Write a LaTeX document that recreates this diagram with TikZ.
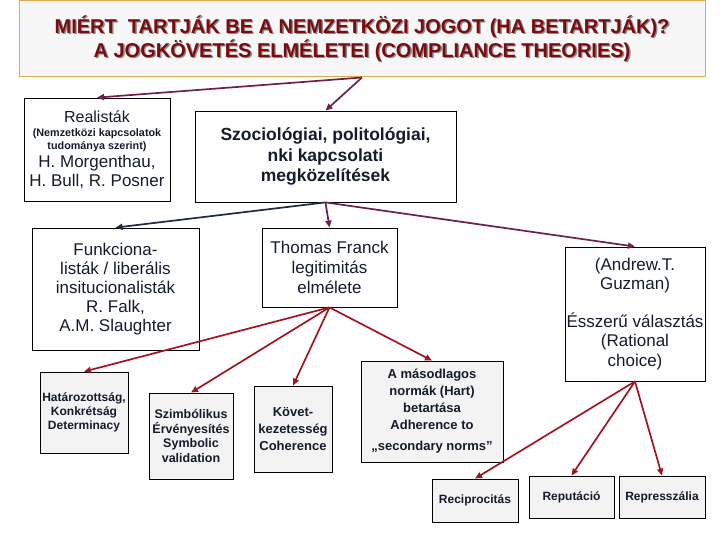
\documentclass[tikz,border=0pt]{standalone}
\usepackage{fontspec}
\setmainfont{Liberation Sans}
\usetikzlibrary{arrows.meta}
\definecolor{ink}{HTML}{141C2C}
\definecolor{titlered}{HTML}{7A0C10}
\definecolor{titleborder}{HTML}{E0A850}
\definecolor{titlefill}{HTML}{F7F7F7}
\definecolor{plum}{HTML}{6E1F4A}
\definecolor{navy}{HTML}{1E2A40}
\definecolor{arrred}{HTML}{A31422}
\definecolor{boxgray}{HTML}{F3F3F3}
\tikzset{
  box/.style={draw=black, line width=0.8pt, fill=white, align=center, inner sep=0pt, text=ink},
  gbox/.style={box, fill=boxgray},
  arr/.style={-{Triangle[length=7pt,width=6pt]}, line width=1.7pt},
  titletext/.style={align=center, inner sep=0pt, font=\bfseries\fontsize{20}{24}\selectfont}
}
\begin{document}
\begin{tikzpicture}[x=1pt,y=-1pt]
\useasboundingbox (0,0) rectangle (720,540);
% title
\node[draw=titleborder, line width=1pt, fill=titlefill, minimum width=686pt, minimum height=76pt, inner sep=0pt] (title) at (362,39) {};
\node[titletext, text=black!45] (tshadow) at (363.4,39.9) {MIÉRT\ \ TARTJÁK BE A NEMZETKÖZI JOGOT (HA BETARTJÁK)?\\A JOGKÖVETÉS ELMÉLETEI (COMPLIANCE THEORIES)};
\node[titletext, text=titlered] (ttext) at (362,38.5) {MIÉRT\ \ TARTJÁK BE A NEMZETKÖZI JOGOT (HA BETARTJÁK)?\\A JOGKÖVETÉS ELMÉLETEI (COMPLIANCE THEORIES)};
% level 1
\node[box, minimum width=146pt, minimum height=103pt] (real) at (97,149.5)
  {{\fontsize{16}{18}\selectfont Realisták}\\[1.5pt]
   {\bfseries\fontsize{10.8}{12}\selectfont (Nemzetközi kapcsolatok}\\[1.5pt]
   {\bfseries\fontsize{10.8}{12}\selectfont tudománya szerint)}\\[2.5pt]
   {\fontsize{17}{18}\selectfont H. Morgenthau,}\\[1.5pt]
   {\fontsize{17}{18}\selectfont H. Bull, R. Posner}};
\node[box, minimum width=261pt, minimum height=91pt, font=\bfseries\fontsize{17.5}{20.5}\selectfont] (szoc) at (325.5,156.5)
  {Szociológiai, politológiai,\\nki kapcsolati\\megközelítések};
% level 2
\node[box, minimum width=167pt, minimum height=122pt, font=\fontsize{17}{19}\selectfont] (funk) at (115.5,289)
  {Funkciona-\\listák / liberális\\insitucionalisták\\R. Falk,\\A.M. Slaughter};
\node[box, minimum width=135pt, minimum height=79pt, font=\fontsize{17}{20}\selectfont] (franck) at (329.5,267.5)
  {Thomas Franck\\legitimitás\\elmélete};
\node[box, minimum width=140pt, minimum height=134pt, font=\fontsize{17}{19.5}\selectfont] (guz) at (635,314)
  {(Andrew.T.\\Guzman)\\[18pt]Ésszerű választás\\(Rational\\choice)};
% level 3
\node[gbox, minimum width=88pt, minimum height=81pt, font=\bfseries\fontsize{12}{14}\selectfont] (hat) at (84,412.5)
  {Határozottság,\\Konkrétság\\Determinacy};
\node[gbox, minimum width=84pt, minimum height=86pt, font=\bfseries\fontsize{12.5}{14.5}\selectfont] (szimb) at (191,436)
  {Szimbólikus\\Érvényesítés\\Symbolic\\validation};
\node[gbox, minimum width=78pt, minimum height=86pt, font=\bfseries\fontsize{13}{17}\selectfont] (kovet) at (293,429)
  {Követ-\\kezetesség\\Coherence};
\node[gbox, minimum width=142pt, minimum height=101pt, font=\bfseries\fontsize{13}{17}\selectfont] (masod) at (432,411.5)
  {A másodlagos\\normák (Hart)\\betartása\\Adherence to\\[4pt]„secondary norms”};
\node[gbox, minimum width=86pt, minimum height=43pt, font=\bfseries\fontsize{12}{14}\selectfont] (recip) at (475,500.5) {Reciprocitás};
\node[gbox, minimum width=85pt, minimum height=42pt, font=\bfseries\fontsize{12}{14}\selectfont] (repu) at (571.5,497) {Reputáció};
\node[gbox, minimum width=86pt, minimum height=42pt, font=\bfseries\fontsize{12}{14}\selectfont] (repr) at (662,497) {Represszália};
% connectors
\draw[arr, plum] (title.south) -- (real.north);
\draw[arr, plum] (title.south) -- (szoc.north);
\draw[arr, navy] (szoc.south) -- (funk.north);
\draw[arr, plum] (szoc.south) -- (franck.north);
\draw[arr, plum] (szoc.south) -- (guz.north);
\draw[arr, arrred] (franck.south) -- (hat.north);
\draw[arr, arrred] (franck.south) -- (szimb.north);
\draw[arr, arrred] (franck.south) -- (kovet.north);
\draw[arr, arrred] (franck.south) -- (masod.north);
\draw[arr, arrred] (guz.south) -- (recip.north);
\draw[arr, arrred] (guz.south) -- (repu.north);
\draw[arr, arrred] (guz.south) -- (repr.north);
\end{tikzpicture}
\end{document}
